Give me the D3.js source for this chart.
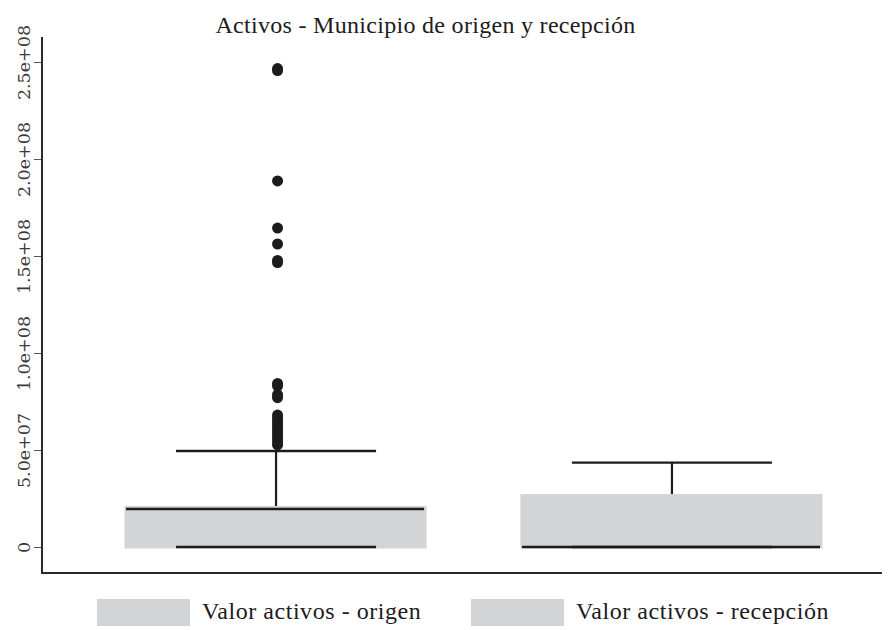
<!DOCTYPE html>
<html>
<head>
<meta charset="utf-8">
<script src="https://cdn.jsdelivr.net/npm/d3@7"></script>
<style>
  html, body { margin: 0; padding: 0; background: #ffffff; }
  svg { display: block; }
</style>
</head>
<body>
<div id="chart"></div>
<script>
// ---- Data ----
const categories = ["Valor activos - origen", "Valor activos - recepción"];
const q1Values = [0, 0];
const medianValues = [19.6e6, 0];
const q3Values = [20.4e6, 26.5e6];
const whiskerLowValues = [0, 0];
const whiskerHighValues = [49.5e6, 43.5e6];
const outliersOrigen = [
  246.6e6, 245.6e6, 188.7e6, 164.4e6, 156.2e6, 147.7e6, 146.6e6,
  84.3e6, 83.0e6, 78.6e6, 77.0e6,
  68.0e6, 66.5e6, 64.9e6, 63.4e6, 61.9e6, 60.3e6, 58.8e6, 57.2e6, 55.7e6, 54.1e6, 52.6e6
];
const outliersRecepcion = [];
const yTickValues = [0, 5e7, 1e8, 1.5e8, 2e8, 2.5e8];
const yTickLabels = ["0", "5.0e+07", "1.0e+08", "1.5e+08", "2.0e+08", "2.5e+08"];
const titleText = "Activos - Municipio de origen y recepción";

// ---- Layout ----
const W = 894, H = 630;
const axisX = 42, axisTop = 37, axisBottom = 573, axisRight = 882;
const boxFill = "#d3d4d6";
const ink = "#1c1c1c";
const serif = "'Liberation Serif', 'Times New Roman', serif";
const tickFont = "'DejaVu Serif', serif";

const svg = d3.select("#chart").append("svg")
  .attr("width", W).attr("height", H);

const y = d3.scaleLinear().domain([-13.4e6, 262.9e6]).range([axisBottom, axisTop]);
const x = d3.scaleBand().domain(categories).range([126, 822]).paddingInner(0.242).paddingOuter(0);

// Title
svg.append("text")
  .attr("x", 425.5).attr("y", 33)
  .attr("text-anchor", "middle")
  .attr("font-family", serif).attr("font-size", 24)
  .attr("letter-spacing", 0.3)
  .attr("fill", ink)
  .text(titleText);

// Y axis
const yAxis = d3.axisLeft(y)
  .tickValues(yTickValues)
  .tickFormat((d, i) => yTickLabels[i])
  .tickSize(8)
  .tickSizeOuter(0);
const gy = svg.append("g").attr("transform", `translate(${axisX},0)`).call(yAxis);
gy.select(".domain").remove();
gy.selectAll(".tick line").attr("stroke", "#555").attr("stroke-width", 1);
gy.selectAll(".tick text")
  .attr("font-family", tickFont).attr("font-size", 17.5)
  .attr("font-weight", 300)
  .attr("fill", "#3a3a3a")
  .attr("text-anchor", "middle")
  .attr("x", 0).attr("dy", 0)
  .attr("transform", "translate(-12,0) rotate(-90)");
svg.append("line")
  .attr("x1", axisX).attr("x2", axisX)
  .attr("y1", axisTop).attr("y2", axisBottom + 1)
  .attr("stroke", "#2a2a2a").attr("stroke-width", 2);
// X axis line
svg.append("line")
  .attr("x1", axisX - 1).attr("x2", axisRight)
  .attr("y1", axisBottom).attr("y2", axisBottom)
  .attr("stroke", "#2a2a2a").attr("stroke-width", 2);

// Boxes
const bw = x.bandwidth();
const capW = bw * 2 / 3;
const boxes = svg.append("g");
categories.forEach((c, i) => {
  const x0 = x(c), cx = x0 + bw / 2;
  const g = boxes.append("g");
  g.append("line")
    .attr("x1", cx).attr("x2", cx)
    .attr("y1", y(q3Values[i])).attr("y2", y(whiskerHighValues[i]))
    .attr("stroke", ink).attr("stroke-width", 2.2);
  g.append("line")
    .attr("x1", cx).attr("x2", cx)
    .attr("y1", y(q1Values[i])).attr("y2", y(whiskerLowValues[i]))
    .attr("stroke", ink).attr("stroke-width", 2.2);
  g.append("rect")
    .attr("x", x0).attr("width", bw - 1)
    .attr("y", y(q3Values[i])).attr("height", Math.max(0, y(q1Values[i]) - y(q3Values[i])))
    .attr("fill", boxFill).attr("stroke", boxFill).attr("stroke-width", 3);
  g.append("line")
    .attr("x1", x0).attr("x2", x0 + bw - 2)
    .attr("y1", y(medianValues[i])).attr("y2", y(medianValues[i]))
    .attr("stroke", ink).attr("stroke-width", 2.6);
  [whiskerHighValues[i], whiskerLowValues[i]].forEach(v => {
    g.append("line")
      .attr("x1", cx - capW / 2).attr("x2", cx + capW / 2)
      .attr("y1", y(v)).attr("y2", y(v))
      .attr("stroke", ink).attr("stroke-width", 2.4);
  });
});

// Outliers
const outlierSets = [outliersOrigen, outliersRecepcion];
categories.forEach((c, i) => {
  const cx = x(c) + bw / 2 + 1.5;
  svg.append("g").selectAll("circle")
    .data(outlierSets[i])
    .join("circle")
    .attr("cx", cx).attr("cy", d => y(d))
    .attr("r", 5.5)
    .attr("fill", ink);
});

// Legend
const legendX = [97, 471];
const legend = svg.append("g");
categories.forEach((c, i) => {
  legend.append("rect")
    .attr("x", legendX[i]).attr("y", 599)
    .attr("width", 93).attr("height", 27)
    .attr("fill", boxFill);
  legend.append("text")
    .attr("x", legendX[i] + 105).attr("y", 619)
    .attr("font-family", serif).attr("font-size", 24)
    .attr("letter-spacing", 0.55)
    .attr("fill", ink)
    .text(c);
});
</script>
</body>
</html>
